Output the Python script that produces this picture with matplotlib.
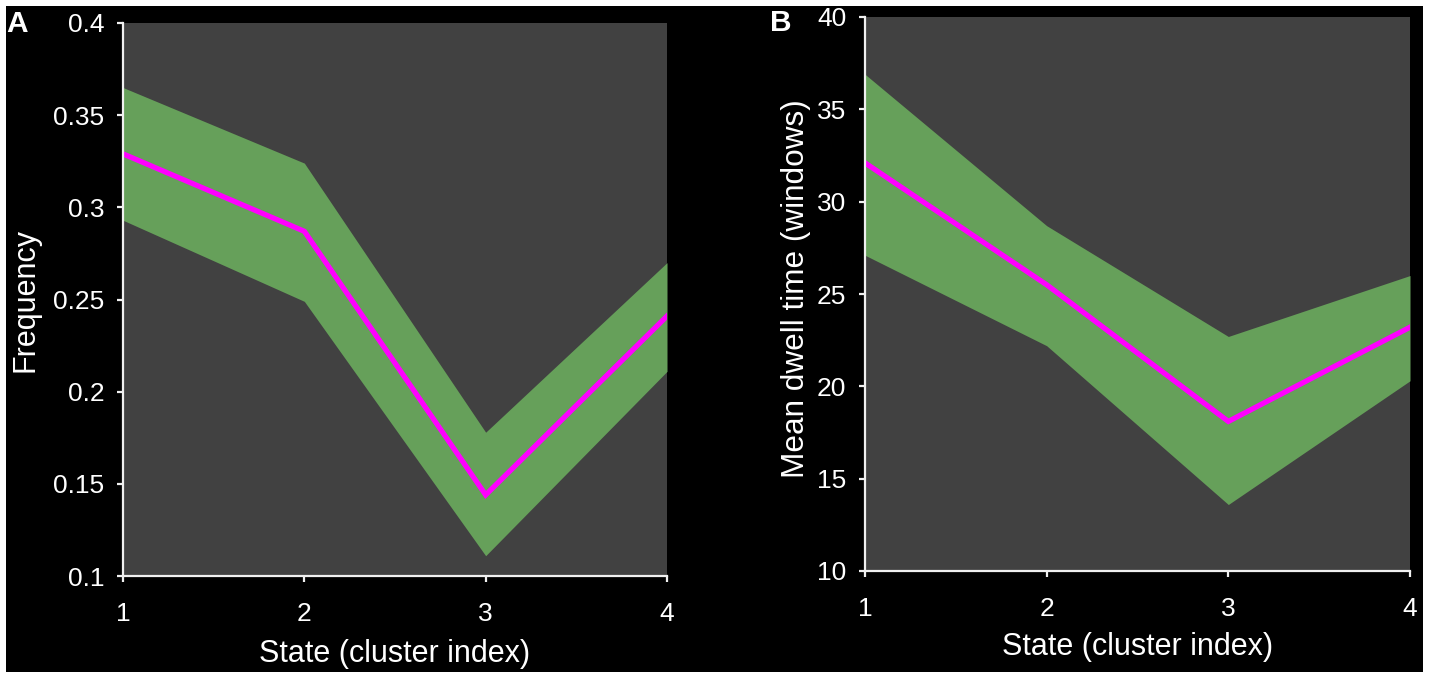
import matplotlib
matplotlib.use("Agg")
import matplotlib.pyplot as plt
from matplotlib.patches import Rectangle

plt.rcParams['font.family'] = ['Liberation Sans', 'DejaVu Sans']

states = [1, 2, 3, 4]
xtick_labels = ["1", "2", "3", "4"]

freq_mean = [0.329, 0.287, 0.144, 0.241]
freq_upper = [0.365, 0.324, 0.178, 0.270]
freq_lower = [0.293, 0.249, 0.111, 0.211]
freq_ticks = [0.1, 0.15, 0.2, 0.25, 0.3, 0.35, 0.4]
freq_ticklabels = ["0.1", "0.15", "0.2", "0.25", "0.3", "0.35", "0.4"]

dwell_mean = [32.1, 25.5, 18.1, 23.2]
dwell_upper = [36.9, 28.7, 22.7, 26.0]
dwell_lower = [27.1, 22.2, 13.6, 20.3]
dwell_ticks = [10, 15, 20, 25, 30, 35, 40]
dwell_ticklabels = ["10", "15", "20", "25", "30", "35", "40"]

BG = "#000000"
PANEL = "#414141"
GREEN = "#66a05a"
MAGENTA = "#ff00ff"
W, H = 1430, 679

fig = plt.figure(figsize=(W / 100, H / 100), dpi=100, facecolor="white")
fig.patches.append(Rectangle((6 / W, 7 / H), (1423 - 6) / W, (672 - 6) / H,
                             transform=fig.transFigure, facecolor=BG,
                             edgecolor="none", zorder=-10))


def make_axes(rect, mean, upper, lower, ylim, yticks, yticklabels, ylabel,
              ylab_xy, xlab_y, ylab_size):
    ax = fig.add_axes(rect)
    ax.set_facecolor(PANEL)
    ax.fill_between(states, lower, upper, color=GREEN, linewidth=0, zorder=2)
    ax.plot(states, mean, color=MAGENTA, linewidth=3.8, zorder=3,
            solid_joinstyle="miter")
    ax.set_xlim(1, 4)
    ax.set_ylim(*ylim)
    ax.set_xticks(states)
    ax.set_xticklabels(xtick_labels)
    ax.set_yticks(yticks)
    ax.set_yticklabels(yticklabels)
    for s in ["top", "right"]:
        ax.spines[s].set_visible(False)
    for s in ["left", "bottom"]:
        ax.spines[s].set_color("#f0f0f0")
        ax.spines[s].set_linewidth(1.6)
        ax.spines[s].set_zorder(4)
    ax.tick_params(colors="#f0f0f0", labelcolor="white", labelsize=19,
                   length=4.5, width=1.6, direction="out")
    ax.tick_params(axis="x", pad=14)
    ax.tick_params(axis="y", pad=9)
    ax.set_xlabel("State (cluster index)", color="white", fontsize=22,
                  va="center")
    ax.xaxis.set_label_coords(0.5, xlab_y)
    ax.set_ylabel(ylabel, color="white", fontsize=ylab_size, va="center")
    ax.yaxis.set_label_coords(*ylab_xy)
    return ax


axA = make_axes([123 / W, (H - 576) / H, 544 / W, 553 / H],
                freq_mean, freq_upper, freq_lower, (0.1, 0.4),
                freq_ticks, freq_ticklabels, "Frequency",
                ((26 - 123) / 544, 0.5), -78 / 553, 22)
axB = make_axes([865 / W, (H - 571) / H, 545 / W, 554 / H],
                dwell_mean, dwell_upper, dwell_lower, (10, 40),
                dwell_ticks, dwell_ticklabels, "Mean dwell time (windows)",
                ((796 - 865) / 545, 0.51), -76 / 554, 22.7)

fig.text(6 / W, 1 - 32 / H, "A", color="white", fontsize=21.5,
         fontweight="bold", va="baseline", ha="left")
fig.text(770 / W, 1 - 31 / H, "B", color="white", fontsize=21.5,
         fontweight="bold", va="baseline", ha="left")

fig.savefig("out.png", dpi=100, facecolor=fig.get_facecolor())
